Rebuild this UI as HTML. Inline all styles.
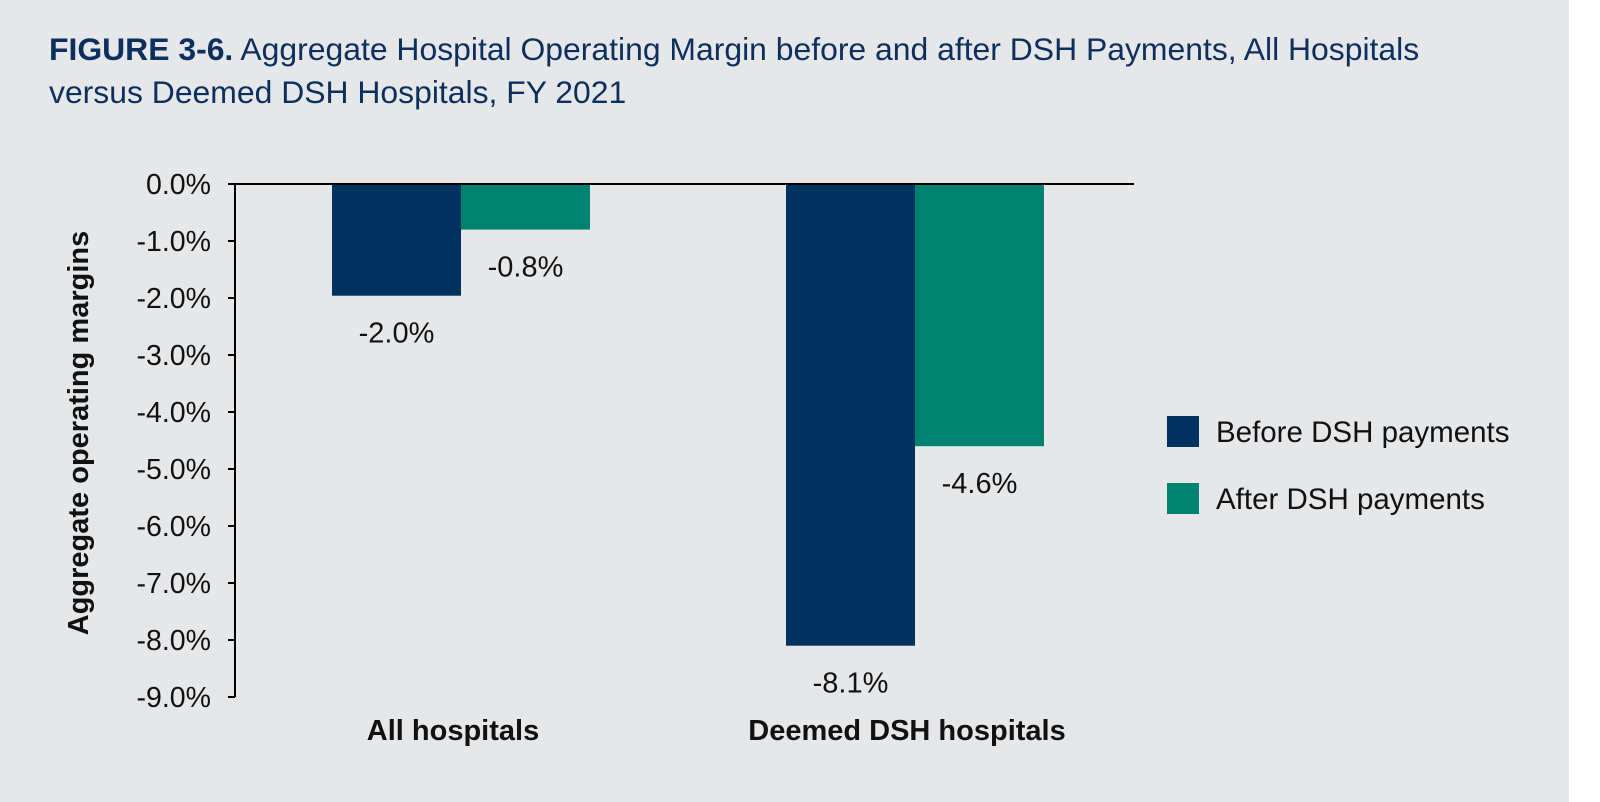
<!DOCTYPE html>
<html><head><meta charset="utf-8"><style>
body{margin:0;width:1600px;height:802px;background:#fff;font-family:"Liberation Sans",Arial,sans-serif;overflow:hidden}
#bg{position:absolute;left:0;top:0;width:1569px;height:802px;background:#e6e7e9}
#title{position:absolute;left:49px;top:28px;font-size:31.9px;line-height:43px;color:#0c2f5e}
</style></head><body>
<div id="bg"></div>
<div id="title"><b>FIGURE 3-6.</b> Aggregate Hospital Operating Margin before and after DSH Payments, All Hospitals<br>versus Deemed DSH Hospitals, FY 2021</div>
<svg id="chart" width="1600" height="802" style="position:absolute;left:0;top:0"></svg>
<script>
const categories=["All hospitals","Deemed DSH hospitals"];
const beforeVals=[-1.96,-8.1];
const afterVals=[-0.8,-4.6];
const beforeLabels=["-2.0%","-8.1%"];
const afterLabels=["-0.8%","-4.6%"];
const tickVals=[0,-1,-2,-3,-4,-5,-6,-7,-8,-9];
const tickLabels=["0.0%","-1.0%","-2.0%","-3.0%","-4.0%","-5.0%","-6.0%","-7.0%","-8.0%","-9.0%"];
const seriesNames=["Before DSH payments","After DSH payments"];
const colors=["#00325f","#008272"];
const svg=document.getElementById('chart');const NS="http://www.w3.org/2000/svg";
const x0=235,x1=1134,y0=184,pxPer=57;
const y=v=>y0-v*pxPer;
const groupCenter=i=>461+i*454;
const bw=129;
function mk(t,a,txt){const e=document.createElementNS(NS,t);for(const k in a)e.setAttribute(k,a[k]);if(txt!=null)e.textContent=txt;svg.appendChild(e);return e;}
tickVals.forEach((v,i)=>{
 const l=mk('line',{x1:x0-7,x2:x0,y1:y(v),y2:y(v),stroke:'#000','stroke-width':2});
 
 
 const t=mk('text',{x:x0-24,y:y(v)+10,'text-anchor':'end','font-size':28.5,fill:'#111'},tickLabels[i]);
 
 
});
const ya=mk('line',{x1:x0,x2:x0,y1:y0,y2:y(-9),stroke:'#000','stroke-width':2});


categories.forEach((c,i)=>{
 const cx=groupCenter(i);
 const b=mk('rect',{x:cx-bw,y:y0,width:bw,height:y(beforeVals[i])-y0,fill:colors[0]});
 
 
 const a=mk('rect',{x:cx,y:y0,width:bw,height:y(afterVals[i])-y0,fill:colors[1]});
 
 
 const lb=mk('text',{x:cx-bw/2,y:y(beforeVals[i])+47,'text-anchor':'middle','font-size':29,fill:'#111'},beforeLabels[i]);
 
 
 const la=mk('text',{x:cx+bw/2,y:y(afterVals[i])+47,'text-anchor':'middle','font-size':29,fill:'#111'},afterLabels[i]);
 
 
 const cl=mk('text',{x:cx-8,y:740,'text-anchor':'middle','font-size':29,'font-weight':'bold',fill:'#111'},c);
 
 
});
const xa=mk('line',{x1:x0-7,x2:x1,y1:y0,y2:y0,stroke:'#000','stroke-width':2});


const yt=mk('text',{x:0,y:0,'text-anchor':'middle','font-size':29,'font-weight':'bold',fill:'#111',transform:'translate(88,433) rotate(-90)'},'Aggregate operating margins');


seriesNames.forEach((n,i)=>{
 const ly=416+i*67;
 const s=mk('rect',{x:1167,y:ly,width:32,height:31,fill:colors[i]});
 
 
 const t=mk('text',{x:1216,y:ly+26,'font-size':29.5,fill:'#111'},n);
 
 
});
</script>
</body></html>
